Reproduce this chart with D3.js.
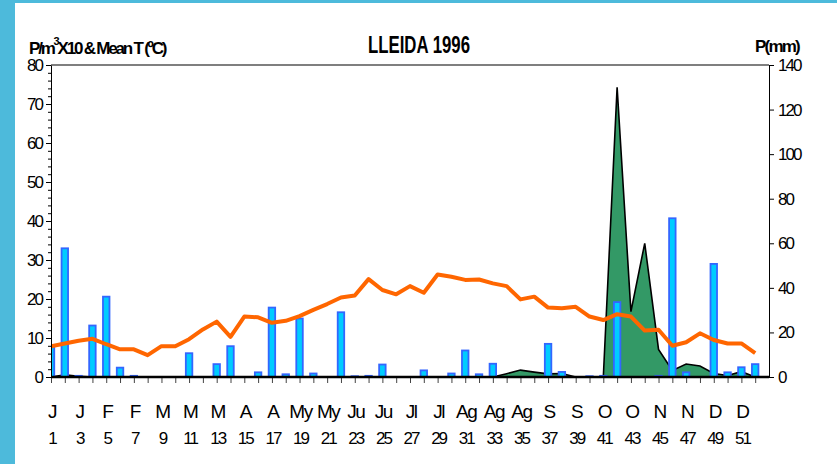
<!DOCTYPE html>
<html>
<head>
<meta charset="utf-8">
<script src="https://cdn.jsdelivr.net/npm/d3@7"></script>
<style>
  body { margin: 0; background: #fff; }
  svg { display: block; font-family: "Liberation Sans", Arial, sans-serif; }
</style>
</head>
<body>
<div id="chart-area"></div>
<script>
// Weekly data, Lleida 1996
var weeks = d3.range(1, 53);

// pollen P/m3 x10 (bars, left axis)
var pollen = [8, 33, 0.3, 13.2, 20.6, 2.4, 0.3, 0, 0, 0,
    6.1, 0, 3.3, 7.9, 0, 1.2, 17.8, 0.7, 15.0, 0.9,
    0, 16.6, 0.2, 0.3, 3.2, 0, 0, 1.7, 0, 0.9,
    6.8, 0.7, 3.4, 0, 0, 0, 8.5, 1.3, 0, 0.2,
    0.3, 19.2, 0, 0, 0.3, 40.7, 1.2, 0, 29, 1.2,
    2.5, 3.3];

// mean temperature (line, left axis)
var temp = [7.9, 8.6, 9.3, 9.8, 8.4, 7.1, 7.1, 5.6, 7.9, 7.9,
    9.7, 12.2, 14.2, 10.3, 15.5, 15.3, 13.9, 14.4, 15.6, 17.2,
    18.7, 20.4, 20.9, 25.1, 22.3, 21.2, 23.3, 21.6, 26.3, 25.7,
    24.9, 25.0, 24.0, 23.3, 19.9, 20.6, 17.8, 17.6, 18.0, 15.5,
    14.6, 16.1, 15.5, 11.9, 12.1, 8.0, 8.9, 11.2, 9.5, 8.6,
    8.6, 6.1];

// precipitation mm (area, right axis)
var precip = [0, 1.0, 0.3, 0, 0, 0, 0, 0, 0, 0,
    0, 0, 0, 0, 0, 0, 0, 0, 0, 0,
    0, 0, 0, 0, 0, 0, 0, 0, 0, 0,
    0, 0, 0, 1.5, 3.1, 2.2, 1.4, 1.6, 0, 0,
    0, 130, 29.3, 60, 12.4, 2.9, 5.8, 4.9, 1.6, 0.7,
    2.4, 0];

// tick labels
var labelWeeks = d3.range(1, 52, 2);
var monthLabels = ["J", "J", "F", "F", "M", "M", "M", "A", "A", "My", "My", "Ju", "Ju",
    "Jl", "Jl", "Ag", "Ag", "Ag", "S", "S", "O", "O", "N", "N", "D", "D"];
var leftTicks = d3.range(0, 81, 10);
var rightTicks = d3.range(0, 141, 20);

var data = weeks.map((w, i) => ({ week: w, pollen: pollen[i], temp: temp[i], precip: precip[i] }));

var W = 837, H = 464;
var svg = d3.select("#chart-area")
    .append("svg")
    .attr("width", W)
    .attr("height", H);

// cyan frame
svg.append("rect").attr("x", 0).attr("y", 0).attr("width", W).attr("height", 3).attr("fill", "#4dbadb");
svg.append("rect").attr("x", 0).attr("y", 0).attr("width", 15).attr("height", H).attr("fill", "#4dbadb");

// SCALES
var pL = 51, pR = 769, pT = 65, pB = 377;
var x = d3.scaleLinear().domain([1, 53]).range([pL, pR]);
var yL = d3.scaleLinear().domain([0, 80]).range([pB, pT]);
var yR = d3.scaleLinear().domain([0, 140]).range([pB, pT]);

svg.append("clipPath").attr("id", "plot")
    .append("rect").attr("x", pL).attr("y", pT - 5).attr("width", pR - pL).attr("height", pB - pT + 5);

var g = svg.append("g").attr("clip-path", "url(#plot)");

// precipitation area
var area = d3.area()
    .x((d) => x(d.week))
    .y0(yR(0))
    .y1((d) => yR(d.precip));
g.append("path")
    .datum(data)
    .attr("d", area)
    .attr("fill", "#339966");
g.append("path")
    .datum(data)
    .attr("d", d3.line().x((d) => x(d.week)).y((d) => yR(d.precip)))
    .attr("fill", "none")
    .attr("stroke", "#000")
    .attr("stroke-width", 1.6);

// pollen bars
var barW = 6.5;
g.selectAll("rect.bar")
    .data(data.filter((d) => d.pollen > 0))
    .enter()
    .append("rect")
    .attr("class", "bar")
    .attr("x", (d) => x(d.week) - barW / 2)
    .attr("y", (d) => yL(d.pollen))
    .attr("width", barW)
    .attr("height", (d) => yL(0) - yL(d.pollen))
    .attr("fill", "#00ccff")
    .attr("stroke", "#3366ff")
    .attr("stroke-width", 1.8);

// temperature line
g.append("path")
    .datum(data)
    .attr("d", d3.line().x((d) => x(d.week)).y((d) => yL(d.temp)))
    .attr("fill", "none")
    .attr("stroke", "#ff6600")
    .attr("stroke-width", 4)
    .attr("stroke-linejoin", "round");

// frame
svg.append("line").attr("x1", pL).attr("x2", pR).attr("y1", pT).attr("y2", pT).attr("stroke", "#000").attr("stroke-width", 1.2);

//---AXES
var fontTick = { size: "17px", spacing: "-2px" };

var minor = svg.append("g")
    .attr("transform", "translate(" + pL + ",0)")
    .call(d3.axisLeft(yL).tickValues(d3.range(0, 81, 2)).tickSize(3).tickFormat(""));
minor.select(".domain").remove();

var la = svg.append("g")
    .attr("transform", "translate(" + pL + ",0)")
    .call(d3.axisLeft(yL).tickValues(leftTicks).tickSize(5).tickPadding(4).tickSizeOuter(0));
la.selectAll("text")
    .attr("font-size", fontTick.size)
    .attr("letter-spacing", fontTick.spacing)
    .attr("font-family", "Liberation Sans, Arial, sans-serif")
    .attr("fill", "#000");

var ra = svg.append("g")
    .attr("transform", "translate(" + pR + ",0)")
    .call(d3.axisRight(yR).tickValues(rightTicks).tickSize(5).tickPadding(4).tickSizeOuter(0));
ra.selectAll("text")
    .attr("font-size", fontTick.size)
    .attr("letter-spacing", fontTick.spacing)
    .attr("font-family", "Liberation Sans, Arial, sans-serif")
    .attr("fill", "#000");

var ba = svg.append("g")
    .attr("transform", "translate(0," + pB + ")")
    .call(d3.axisBottom(x).tickValues(weeks).tickSize(6).tickFormat("").tickSizeOuter(0));
ba.select(".domain").remove();
ba.selectAll("line").attr("stroke", "#444");

svg.append("line").attr("x1", pL).attr("x2", pR).attr("y1", pB).attr("y2", pB)
    .attr("stroke", "#000").attr("stroke-width", 2.5);

// month and week labels
svg.append("g").selectAll("text")
    .data(labelWeeks)
    .enter()
    .append("text")
    .attr("x", (d) => x(d) + 1)
    .attr("y", 418)
    .attr("text-anchor", "middle")
    .attr("font-size", "19px")
    .attr("letter-spacing", "-1.5px")
    .text((d, i) => monthLabels[i]);

svg.append("g").selectAll("text")
    .data(labelWeeks)
    .enter()
    .append("text")
    .attr("x", (d) => x(d) + 1)
    .attr("y", 444)
    .attr("text-anchor", "middle")
    .attr("font-size", "17px")
    .attr("letter-spacing", "-2px")
    .text((d) => d);

//---TITLE LABELS
svg.append("text")
    .attr("x", 368)
    .attr("y", 53)
    .attr("font-size", "23px")
    .attr("font-weight", "bold")
    .attr("textLength", 102)
    .attr("lengthAdjust", "spacingAndGlyphs")
    .text("LLEIDA 1996");

var yl = svg.append("text")
    .attr("x", 29)
    .attr("y", 54)
    .attr("font-size", "17px")
    .attr("font-weight", "bold")
    .attr("letter-spacing", "-2.2px");
yl.append("tspan").text("P/m");
yl.append("tspan").attr("dy", -9).attr("font-size", "11px").text("3");
yl.append("tspan").attr("dy", 9).text("X10 & Mean T (ºC)");

svg.append("text")
    .attr("x", 755)
    .attr("y", 52)
    .attr("font-size", "17px")
    .attr("font-weight", "bold")
    .attr("letter-spacing", "-1.8px")
    .text("P(mm)");
</script>
</body>
</html>
